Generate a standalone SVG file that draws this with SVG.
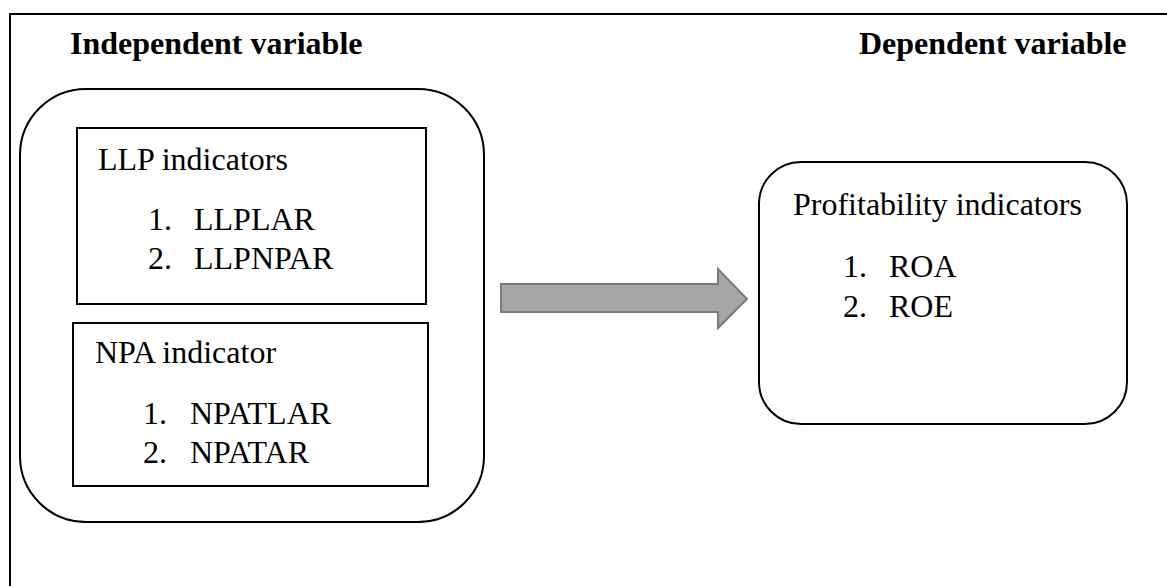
<svg xmlns="http://www.w3.org/2000/svg" width="1167" height="586" viewBox="0 0 1167 586">
<style>
.t{font-family:"Liberation Serif","Times New Roman",serif;font-size:32px;fill:#000}
.b{font-weight:bold}
.box{fill:#fff;stroke:#000;stroke-width:2}
.frame{fill:none;stroke:#000;stroke-width:2}
</style>
<rect width="1167" height="586" fill="#fff"/>
<g id="frame">
<path class="frame" d="M10,586 V14 H1167"/>
</g>
<text class="t b" x="70" y="54">Independent variable</text>
<text class="t b" x="859" y="54">Dependent variable</text>
<g id="independent">
<rect class="box" x="20" y="89" width="464" height="433" rx="66" ry="66"/>
</g>
<g id="llp">
<rect class="box" x="77" y="128" width="349" height="176"/>
<text class="t" x="98" y="170">LLP indicators</text>
<text class="t" x="148" y="230">1.</text><text class="t" x="194" y="230">LLPLAR</text>
<text class="t" x="148" y="269">2.</text><text class="t" x="194" y="269">LLPNPAR</text>
</g>
<g id="npa">
<rect class="box" x="73" y="323" width="355" height="163"/>
<text class="t" x="95" y="363">NPA indicator</text>
<text class="t" x="143" y="424">1.</text><text class="t" x="190" y="424">NPATLAR</text>
<text class="t" x="143" y="463">2.</text><text class="t" x="190" y="463">NPATAR</text>
</g>
<g id="profitability">
<rect class="box" x="759" y="162" width="368" height="262" rx="42" ry="42"/>
<text class="t" x="793" y="215">Profitability indicators</text>
<text class="t" x="843" y="277">1.</text><text class="t" x="889" y="277">ROA</text>
<text class="t" x="843" y="317">2.</text><text class="t" x="889" y="317">ROE</text>
</g>
<g id="connectors">
<polygon points="501,284 718,284 718,269 747,299 718,328 718,312 501,312" fill="#a5a5a5" stroke="#7a7a7a" stroke-width="2"/>
</g>
</svg>
